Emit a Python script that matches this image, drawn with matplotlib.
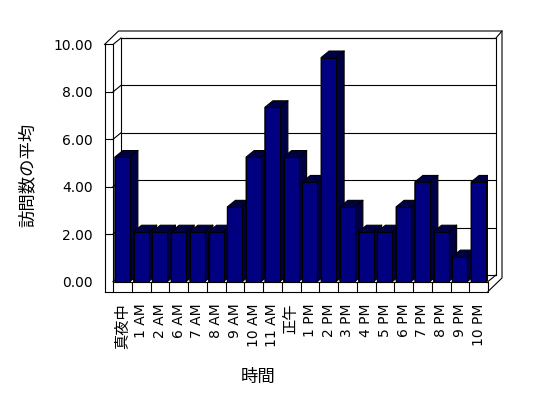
import matplotlib
matplotlib.use("Agg")
import matplotlib.pyplot as plt
from matplotlib.patches import Polygon

# data
hours = ["真夜中", "1 AM", "2 AM", "6 AM", "7 AM", "8 AM", "9 AM", "10 AM",
         "11 AM", "正午", "1 PM", "2 PM", "3 PM", "4 PM", "5 PM", "6 PM",
         "7 PM", "8 PM", "9 PM", "10 PM"]
avg_visits = [5.25, 2.1, 2.1, 2.1, 2.1, 2.1, 3.15, 5.25,
              7.35, 5.25, 4.2, 9.45, 3.15, 2.1, 2.1, 3.15,
              4.2, 2.1, 1.05, 4.2]
y_ticks = [0, 2, 4, 6, 8, 10]

FIG_W, FIG_H = 548, 398
AX_L, AX_R, AX_TOP, AX_BOT = 113, 488, 44.5, 281.5

fig = plt.figure(figsize=(FIG_W / 100, FIG_H / 100), dpi=100)
ax = fig.add_axes([AX_L / FIG_W, 1 - AX_BOT / FIG_H,
                   (AX_R - AX_L) / FIG_W, (AX_BOT - AX_TOP) / FIG_H])

n = len(hours)
x0, x1 = -0.5, n - 0.5
y0, y1 = 0, 10
ax.set_xlim(x0, x1)
ax.set_ylim(y0, y1)

# pixel -> data unit conversion
sx = (x1 - x0) / (AX_R - AX_L)
sy = (y1 - y0) / (AX_BOT - AX_TOP)
dx, dy = 8 * sx, 6.5 * sy        # depth of the box
dx2, dy2 = 14 * sx, 13.5 * sy    # outer edge of the back wall
wl = 8.5 * sx                    # left wall thickness
ft = 10 * sy                     # floor thickness

line = dict(color="black", lw=0.8, clip_on=False, zorder=1)

# back wall + gridlines
ax.plot([x0 + dx, x0 + dx, x1 + dx, x1 + dx], [y0 + dy, y1 + dy, y1 + dy, y0 + dy], **line)
for t in y_ticks:
    ax.plot([x0 + dx, x1 + dx], [t + dy, t + dy], **line)
    ax.plot([x0, x0 + dx], [t, t + dy], **line)
    if 0 < t < 10:
        ax.plot([x0 - wl, x0], [t, t], **line)

# left wall front face
ax.plot([x0 - wl, x0 - wl, x0, x0, x0 - wl], [y0 - ft, y1, y1, y0 - ft, y0 - ft], **line)
# outer silhouette
ax.plot([x0 - wl, x0 - wl + dx2, x1 + dx2, x1 + dx2, x1],
        [y1, y1 + dy2, y1 + dy2, y0 - ft + dy2, y0 - ft], **line)
ax.plot([x1 + dx, x1 + dx2], [y1 + dy, y1 + dy2], **line)
# floor
ax.plot([x0, x1, x1, x0], [y0, y0, y0 - ft, y0 - ft], **line)
ax.plot([x1, x1 + dx], [y0, y0 + dy], **line)
for k in range(n - 1):
    ax.plot([k + 0.5, k + 0.5], [y0 - ft, y0], **line)

# bars with a fake depth
w = 0.8
for i, v in enumerate(avg_visits):
    xl, xr = i - w / 2, i + w / 2
    ax.add_patch(Polygon([(xl, 0), (xr, 0), (xr + dx, dy), (xr + dx, v + dy),
                          (xl + dx, v + dy), (xl, v)],
                         closed=True, facecolor="#000044", edgecolor="black",
                         lw=0.8, zorder=2 + 3 * i))
    ax.bar(i, v, width=w, color="#000080", edgecolor="black", lw=0.8, zorder=3 + 3 * i)
    ax.plot([xr, xr + dx], [v, v + dy], color="black", lw=0.8, zorder=4 + 3 * i)

for s in ax.spines.values():
    s.set_visible(False)
ax.patch.set_visible(False)

ax.set_yticks(y_ticks)
ax.set_yticklabels([f"{t:.2f}" for t in y_ticks], fontsize=10)
ax.tick_params(axis="y", length=0, pad=14.4)

ax.set_xticks(range(n))
ax.set_xticklabels(hours, rotation=90, family=["DejaVu Sans", "Noto Sans CJK JP"])
for lab in ax.get_xticklabels():
    lab.set_fontsize(11 if lab.get_text() in ("真夜中", "正午") else 10)
ax.tick_params(axis="x", length=0, pad=16)

fig.text(258 / FIG_W, 1 - 377 / FIG_H, "時間", ha="center", va="center",
         fontsize=12.5, family="Noto Sans CJK JP")
fig.text(28 / FIG_W, 1 - 175 / FIG_H, "訪問数の平均", ha="center", va="center",
         rotation=90, fontsize=12.5, family="Noto Sans CJK JP")

fig.savefig("out.png", dpi=100)
